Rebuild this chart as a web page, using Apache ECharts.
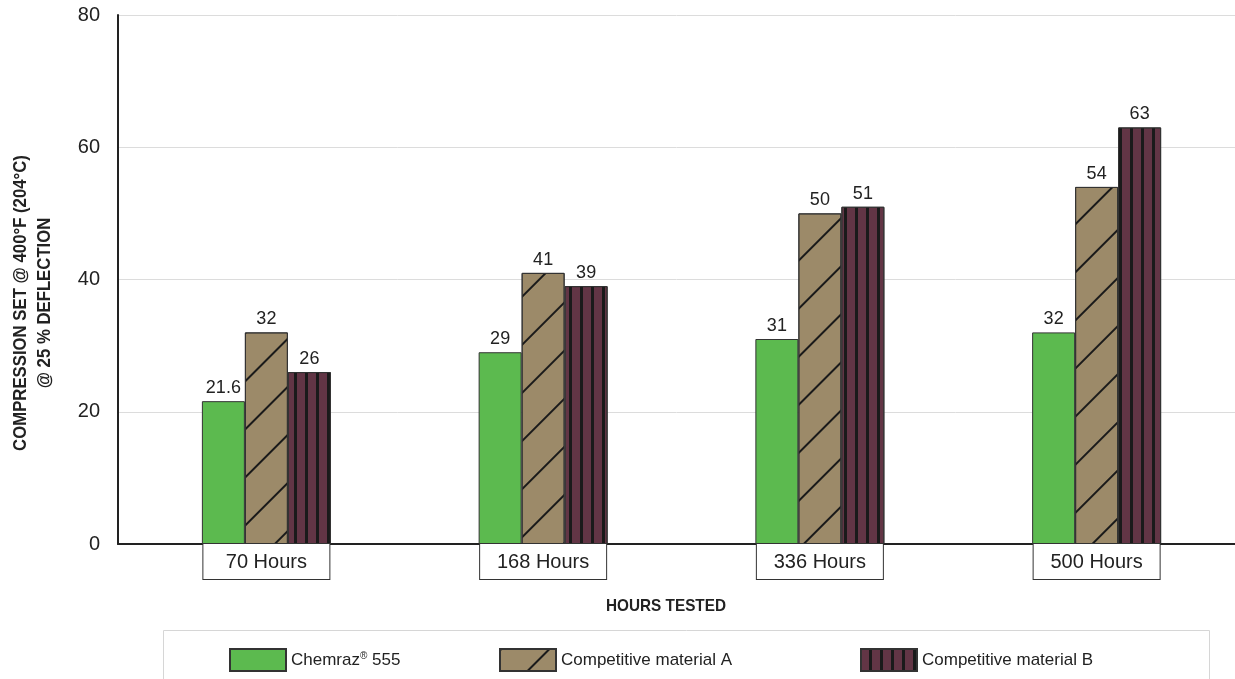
<!DOCTYPE html>
<html>
<head>
<meta charset="utf-8">
<script src="https://cdn.jsdelivr.net/npm/echarts@6/dist/echarts.min.js"></script>
<style>
  html, body { margin: 0; padding: 0; background: #fff; }
  #chart { width: 1235px; height: 679px; }
</style>
</head>
<body>
<div id="chart"></div>
<script>
var categories = ["70 Hours", "168 Hours", "336 Hours", "500 Hours"];
var chemraz = [21.6, 29, 31, 32];
var materialA = [32, 41, 50, 54];
var materialB = [26, 39, 51, 63];
var yTicks = [0, 20, 40, 60, 80];

var FONT = "'Liberation Sans', Arial, sans-serif";

var chart = echarts.init(document.getElementById("chart"));

var labelTop = {
  show: true,
  position: "top",
  distance: 4,
  color: "#222",
  fontSize: 18,
  fontFamily: FONT,
};

var legendText = {
  color: "#222",
  fontSize: 17,
  fontFamily: FONT,
  rich: {
    sup: { fontSize: 10, verticalAlign: "top", padding: [0, 0, 8, 0], color: "#222", fontFamily: FONT },
  },
};

var yMin = yTicks[0];
var yMax = yTicks[yTicks.length - 1];

var option = {
  animation: false,
  // grid 0 carries the frame (y axis, gridlines), grid 1 the bars,
  // slightly shifted right as in the original
  grid: [
    { left: 118, right: 0, top: 15, bottom: 135 },
    { left: 128, right: 0, top: 15, bottom: 135 },
  ],
  xAxis: [
    {
      gridIndex: 0,
      type: "value",
      min: 0,
      max: 1,
      axisLine: { show: true, lineStyle: { color: "#222", width: 2 } },
      axisTick: { show: false },
      axisLabel: { show: false },
      splitLine: { show: false },
    },
    {
      gridIndex: 1,
      type: "category",
      data: categories,
      axisLine: { show: false },
      axisTick: { show: false },
      axisLabel: {
        margin: 0,
        color: "#222",
        fontSize: 20,
        fontFamily: FONT,
        width: 126,
        align: "center",
        padding: [7, 0, 6, 0],
        lineHeight: 22,
        backgroundColor: "#fff",
        borderColor: "#333",
        borderWidth: 1,
      },
    },
  ],
  yAxis: [
    {
      gridIndex: 0,
      type: "value",
      min: yMin,
      max: yMax,
      interval: 20,
      axisLine: { show: true, lineStyle: { color: "#222", width: 2 } },
      axisTick: { show: false },
      splitLine: { lineStyle: { color: "#dcdcdc", width: 1 } },
      axisLabel: {
        margin: 18,
        color: "#222",
        fontSize: 20,
        fontFamily: FONT,
      },
    },
    {
      gridIndex: 1,
      type: "value",
      min: yMin,
      max: yMax,
      show: false,
    },
  ],
  legend: [
    { data: ["Chemraz® 555"], left: 229, top: 648 },
    { data: ["Competitive material A"], left: 499, top: 648 },
    { data: ["Competitive material B"], left: 860, top: 648 },
  ].map(function (l) {
    return Object.assign(l, {
      icon: "rect",
      itemWidth: 56,
      itemHeight: 22,
      padding: 0,
      itemGap: 0,
      textStyle: legendText,
      formatter: function (name) {
        return name.replace("®", "{sup|®}");
      },
    });
  }),
  graphic: [
    {
      type: "rect",
      silent: true,
      shape: { x: 163.5, y: 630.5, width: 1046, height: 60 },
      style: { fill: "none", stroke: "#d6d6d6", lineWidth: 1 },
      z: -1,
    },
    {
      type: "text",
      x: 666,
      y: 606,
      scaleX: 0.9,
      style: {
        text: "HOURS TESTED",
        fill: "#222",
        font: "bold 17px " + FONT,
        align: "center",
        verticalAlign: "middle",
      },
    },
    {
      type: "text",
      x: 33,
      y: 303,
      rotation: Math.PI / 2,
      scaleX: 0.93,
      style: {
        text: "COMPRESSION SET @ 400°F (204°C)\n@ 25 % DEFLECTION",
        fill: "#222",
        font: "bold 18px " + FONT,
        lineHeight: 24,
        align: "center",
        verticalAlign: "middle",
      },
    },
  ],
  series: [
    {
      name: "Chemraz® 555",
      type: "bar",
      xAxisIndex: 1,
      yAxisIndex: 1,
      data: chemraz,
      barWidth: 43,
      barGap: "0%",
      itemStyle: { color: "#5cba4f", borderColor: "#333", borderWidth: 1 },
      label: labelTop,
    },
    {
      name: "Competitive material A",
      type: "bar",
      xAxisIndex: 1,
      yAxisIndex: 1,
      data: materialA,
      barWidth: 43,
      barGap: "0%",
      itemStyle: {
        color: "#9c8a69",
        borderColor: "#333",
        borderWidth: 1,
        decal: {
          symbol: "rect",
          symbolSize: 1,
          color: "#1a1a1a",
          dashArrayX: [1, 0],
          dashArrayY: [2, 32],
          rotation: -Math.PI / 4,
        },
      },
      label: labelTop,
    },
    {
      name: "Competitive material B",
      type: "bar",
      xAxisIndex: 1,
      yAxisIndex: 1,
      data: materialB,
      barWidth: 43,
      barGap: "0%",
      itemStyle: {
        color: "#623545",
        borderColor: "#333",
        borderWidth: 1,
        decal: {
          symbol: "rect",
          symbolSize: 1,
          color: "#1a1a1a",
          dashArrayX: [1, 0],
          dashArrayY: [3, 8],
          rotation: Math.PI / 2,
        },
      },
      label: labelTop,
    },
  ],
};

chart.setOption(option);
</script>
</body>
</html>
